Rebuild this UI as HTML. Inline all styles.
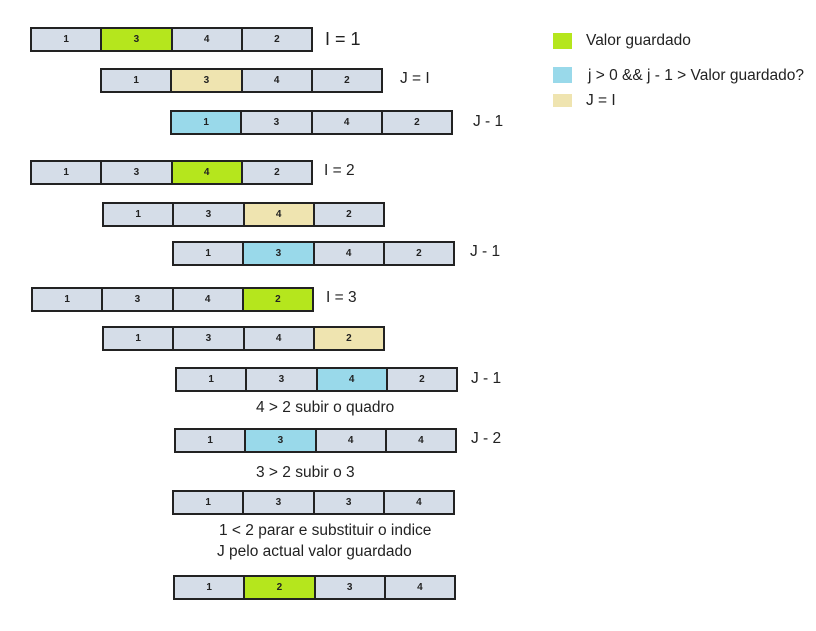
<!DOCTYPE html>
<html><head><meta charset="utf-8"><style>
body{margin:0;width:816px;height:631px;background:#fff;position:relative;overflow:hidden;font-family:"Liberation Sans",sans-serif;}
.r{position:absolute;height:21px;width:279px;border:2px solid #222;display:flex;background:#d5dde8;}
.r div{flex:1;border-right:2px solid #222;font-size:10px;font-weight:bold;text-align:center;line-height:21px;color:#222;}
.r div:last-child{border-right:none;}
.g{background:#b5e61d}.b{background:#99d9ea}.y{background:#efe4b0}
.t{position:absolute;font-size:15.5px;color:#222;white-space:nowrap;line-height:1;}
.sq{position:absolute;width:19px;}
</style></head><body>
<div class="r" style="left:30px;top:27px"><div>1</div><div class="g">3</div><div>4</div><div>2</div></div>
<div class="t" style="left:325px;top:30px;font-size:18px">I = 1</div>
<div class="r" style="left:100px;top:68px"><div>1</div><div class="y">3</div><div>4</div><div>2</div></div>
<div class="t" style="left:400px;top:71px">J = I</div>
<div class="r" style="left:170px;top:110px"><div class="b">1</div><div>3</div><div>4</div><div>2</div></div>
<div class="t" style="left:473px;top:114px">J - 1</div>

<div class="r" style="left:30px;top:160px"><div>1</div><div>3</div><div class="g">4</div><div>2</div></div>
<div class="t" style="left:324px;top:163px">I = 2</div>
<div class="r" style="left:102px;top:202px"><div>1</div><div>3</div><div class="y">4</div><div>2</div></div>
<div class="r" style="left:172px;top:241px"><div>1</div><div class="b">3</div><div>4</div><div>2</div></div>
<div class="t" style="left:470px;top:244px">J - 1</div>

<div class="r" style="left:31px;top:287px"><div>1</div><div>3</div><div>4</div><div class="g">2</div></div>
<div class="t" style="left:326px;top:290px">I = 3</div>
<div class="r" style="left:102px;top:326px"><div>1</div><div>3</div><div>4</div><div class="y">2</div></div>
<div class="r" style="left:175px;top:367px"><div>1</div><div>3</div><div class="b">4</div><div>2</div></div>
<div class="t" style="left:471px;top:371px">J - 1</div>
<div class="t" style="left:256px;top:400px">4 &gt; 2 subir o quadro</div>
<div class="r" style="left:174px;top:428px"><div>1</div><div class="b">3</div><div>4</div><div>4</div></div>
<div class="t" style="left:471px;top:431px">J - 2</div>
<div class="t" style="left:256px;top:465px">3 &gt; 2 subir o 3</div>
<div class="r" style="left:172px;top:490px"><div>1</div><div>3</div><div>3</div><div>4</div></div>
<div class="t" style="left:219px;top:523px">1 &lt; 2 parar e substituir o indice</div>
<div class="t" style="left:217px;top:544px">J pelo actual valor guardado</div>
<div class="r" style="left:173px;top:575px"><div>1</div><div class="g">2</div><div>3</div><div>4</div></div>

<div class="sq g" style="left:553px;top:33px;height:16px"></div>
<div class="t" style="left:586px;top:33px">Valor guardado</div>
<div class="sq b" style="left:553px;top:67px;height:16px"></div>
<div class="t" style="left:588px;top:68px">j &gt; 0 &amp;&amp; j - 1 &gt; Valor guardado?</div>
<div class="sq y" style="left:553px;top:94px;height:13px"></div>
<div class="t" style="left:586px;top:93px">J = I</div>
</body></html>
